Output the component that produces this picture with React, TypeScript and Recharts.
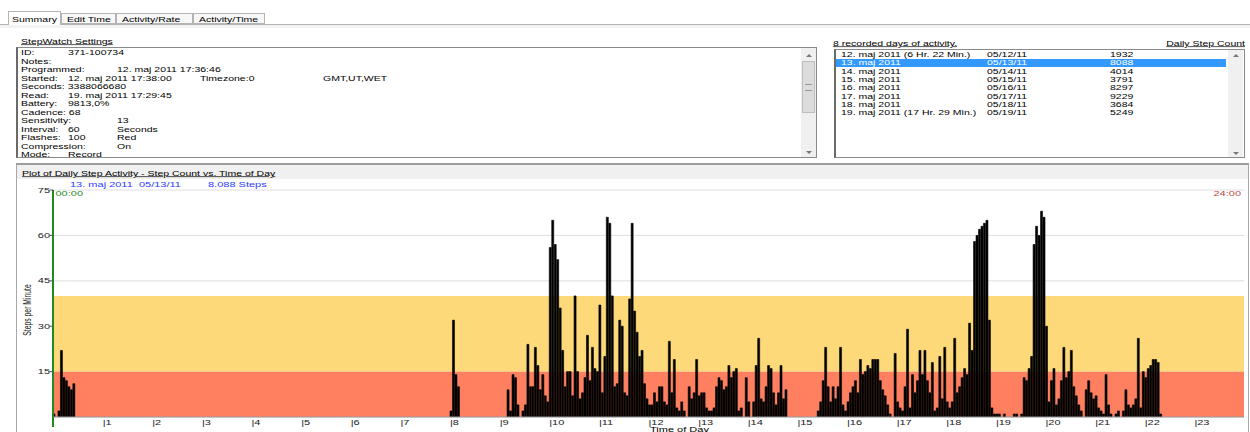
import React from "react";
import { BarChart, Bar, XAxis, YAxis, CartesianGrid, ReferenceArea, ReferenceLine } from "recharts";

const FONT = '"Liberation Sans", Arial, sans-serif';
const SQUASH = 0.68; // the screenshot is squeezed vertically

const BINS_PER_HOUR = 20; // 3-minute bins
const HOURS = 24;

// steps per minute, one value per 3-minute bin
const night0000 = [1, 0, 2, 22, 13, 12, 10, 9, 11];
const morning0800 = [2, 32, 14, 10];
const day0900 = [
  0,
  0, 0, 9, 2, 14, 13, 4, 0, 2, 4, 24, 10, 10, 23, 17, 9, 14, 7, 5, 56,
  65, 57, 52, 36, 22, 10, 15, 15, 7, 40, 15, 6, 8, 13, 27, 12, 23, 16, 15, 37,
  8, 20, 66, 64, 40, 10, 11, 32, 30, 8, 7, 39, 64, 35, 28, 20, 22, 11, 6, 4,
  4, 8, 5, 10, 10, 5, 4, 25, 8, 19, 3, 2, 5, 2, 0, 10, 6, 8, 19, 7,
  8, 8, 3, 2, 2, 3, 10, 13, 12, 9, 10, 17, 13, 15, 16, 2, 3, 0, 13, 5,
  0, 5, 17, 26, 6, 5, 10, 17, 16, 8, 4, 8, 17, 6, 9,
];
const evening1500 = [
  0, 0, 0, 0, 0, 0, 0, 0, 2, 5, 12, 23, 10, 5, 10, 6, 10, 23, 4, 2,
  5, 8, 10, 12, 8, 19, 14, 15, 17, 16, 19, 19, 19, 12, 9, 7, 4, 1, 0, 21,
  5, 3, 2, 10, 29, 3, 14, 8, 12, 22, 14, 22, 12, 8, 18, 2, 3, 20, 6, 23,
  5, 3, 5, 26, 8, 10, 13, 16, 14, 31, 22, 58, 60, 62, 63, 64, 65, 32, 3, 1,
  1, 1, 0, 1, 0, 0, 0, 1, 1, 0, 1, 13, 12, 16, 20, 57, 63, 60, 68, 66,
  30, 5, 12, 16, 4, 6, 12, 23, 13, 15, 22, 10, 7, 4, 2, 0, 9, 12, 8, 6,
  7, 3, 2, 1, 14, 4, 1, 0, 1, 2, 0, 2, 9, 4, 3, 4, 6, 26, 3, 15,
  13, 16, 17, 19, 19, 18, 1,
];
const segmentStartHours = [0, 8, 9, 15];
const segmentValues = [night0000, morning0800, day0900, evening1500];

const stepTicks = [15, 30, 45, 60, 75];
const hourTicks = Array.from({ length: HOURS }, (_, h) => h * BINS_PER_HOUR);
const lowZone = [0, 15];
const midZone = [15, 40];

const tabLabels = ["Summary", "Edit Time", "Activity/Rate", "Activity/Time"];
const dayNames = [
  "12. maj 2011 (6 Hr. 22 Min.)", "13. maj 2011", "14. maj 2011", "15. maj 2011",
  "16. maj 2011", "17. maj 2011", "18. maj 2011", "19. maj 2011 (17 Hr. 29 Min.)",
];
const dayDates = ["05/12/11", "05/13/11", "05/14/11", "05/15/11", "05/16/11", "05/17/11", "05/18/11", "05/19/11"];
const daySteps = ["1932", "8088", "4014", "3791", "8297", "9229", "3684", "5249"];
const selectedDay = 1;

const settingLines: [string, number][][] = [
  [["ID:", 21], ["371-100734", 68]],
  [["Notes:", 21]],
  [["Programmed:", 21], ["12. maj 2011 17:36:46", 117]],
  [["Started:", 21], ["12. maj 2011 17:38:00", 68], ["Timezone:0", 200], ["GMT,UT,WET", 323]],
  [["Seconds: 3388066680", 21]],
  [["Read:", 21], ["19. maj 2011 17:29:45", 68]],
  [["Battery:", 21], ["9813,0%", 68]],
  [["Cadence: 68", 21]],
  [["Sensitivity:", 21], ["13", 117]],
  [["Interval:", 21], ["60", 68], ["Seconds", 117]],
  [["Flashes:", 21], ["100", 68], ["Red", 117]],
  [["Compression:", 21], ["On", 117]],
  [["Mode:", 21], ["Record", 68]],
];

const stepRows = Array.from({ length: HOURS * BINS_PER_HOUR }, (_, bin) => ({ bin, steps: 0 }));
segmentValues.forEach((values, s) => {
  values.forEach((v, i) => {
    stepRows[segmentStartHours[s] * BINS_PER_HOUR + i].steps = v;
  });
});

const GREEN = "#1f8a1f";
const RED_LINE = "#c24a4a";
const BLUE_TEXT = "#2f3cff";
const YELLOW_ZONE = "#fdd97a";
const RED_ZONE = "#fe8060";

function T({ x, y, children, color = "#000", underline = false, right = false, size = 10.5 }: any) {
  const style: React.CSSProperties = {
    position: "absolute",
    top: y - 7,
    height: 14,
    lineHeight: "14px",
    fontSize: size,
    fontFamily: FONT,
    color,
    whiteSpace: "pre",
    transform: `scaleY(${SQUASH})`,
    transformOrigin: right ? "100% 50%" : "0 50%",
    textDecoration: underline ? "underline" : undefined,
  };
  if (right) style.right = 1250 - x;
  else style.left = x;
  return <div style={style}>{children}</div>;
}

function Arrow({ x, y, up }: any) {
  return (
    <div
      style={{
        position: "absolute",
        left: x - 3,
        top: y - 1.5,
        width: 0,
        height: 0,
        borderLeft: "3px solid transparent",
        borderRight: "3px solid transparent",
        [up ? "borderBottom" : "borderTop"]: "3px solid #777",
      }}
    />
  );
}

function HourTick(props: any) {
  const { x, y, payload } = props;
  const bx = x - (payload.offset ?? 0);
  const hour = payload.value / BINS_PER_HOUR;
  if (hour === 0) {
    return <line x1={bx} x2={bx} y1={y} y2={y + 10} stroke={GREEN} strokeWidth={2} />;
  }
  return (
    <g transform={`translate(${bx},${y + 5.7}) scale(1,${SQUASH})`}>
      <text x={0} y={3.9} fontSize={11} fontFamily={FONT} fill="#222">
        {`|${hour}`}
      </text>
    </g>
  );
}

function StepTick(props: any) {
  const { x, y, payload } = props;
  return (
    <g transform={`translate(${x},${y}) scale(1,${SQUASH})`}>
      <text x={0} y={3.9} textAnchor="end" fontSize={11} fontFamily={FONT} fill="#222">
        {payload.value}
      </text>
    </g>
  );
}

export default function App() {
  const tabEdges = [8, 61, 116, 193, 265];
  return (
    <div
      style={{
        position: "fixed",
        left: 0,
        top: 0,
        width: 1250,
        height: 432,
        overflow: "hidden",
        background: "#fff",
        fontFamily: FONT,
      }}
    >
      {/* tab strip */}
      <div style={{ position: "absolute", left: 0, top: 24, width: 1250, height: 1, background: "#b4b4b4" }} />
      <div style={{ position: "absolute", left: 0, top: 25, width: 1250, height: 3, background: "#f3f3f3" }} />
      {tabLabels.map((label, i) => {
        const sel = i === 0;
        return (
          <div
            key={label}
            style={{
              position: "absolute",
              left: tabEdges[i],
              top: sel ? 11 : 13,
              width: tabEdges[i + 1] - tabEdges[i],
              height: sel ? 14 : 11,
              boxSizing: "border-box",
              border: "1px solid #b4b4b4",
              borderBottom: sel ? "none" : "1px solid #b4b4b4",
              background: sel ? "#fff" : "#f7f7f7",
            }}
          />
        );
      })}
      {tabLabels.map((label, i) => (
        <T key={label} x={tabEdges[i] + (i === 0 ? 4 : 6)} y={19}>
          {label}
        </T>
      ))}

      {/* settings box */}
      <T x={21} y={40.5} underline>
        StepWatch Settings
      </T>
      <div
        style={{
          position: "absolute",
          left: 16,
          top: 47,
          width: 801,
          height: 111,
          boxSizing: "border-box",
          border: "1px solid #8a8a8a",
          borderLeft: "2px solid #6a6a6a",
          overflow: "hidden",
          background: "#fff",
        }}
      >
        {settingLines.map((cells, r) =>
          cells.map(([text, x]) => (
            <T key={r + text} x={x - 18} y={52.3 + r * 8.5 - 48}>
              {text}
            </T>
          ))
        )}
      </div>
      <div style={{ position: "absolute", left: 801, top: 48, width: 15, height: 109, background: "#f0f0f0" }} />
      <div
        style={{
          position: "absolute",
          left: 802,
          top: 61,
          width: 13,
          height: 52,
          boxSizing: "border-box",
          background: "#dcdcdc",
          border: "1px solid #bdbdbd",
        }}
      />
      <div style={{ position: "absolute", left: 805, top: 84, width: 7, height: 5, borderTop: "1px solid #999", borderBottom: "1px solid #999" }} />
      <Arrow x={808.5} y={55} up />
      <Arrow x={808.5} y={152} />

      {/* recorded days list */}
      <T x={833} y={42.5} underline>
        {`${dayNames.length} recorded days of activity.`}
      </T>
      <T x={1245} y={42.5} right underline>
        Daily Step Count
      </T>
      <div
        style={{
          position: "absolute",
          left: 834,
          top: 49,
          width: 411,
          height: 109,
          boxSizing: "border-box",
          border: "1px solid #8a8a8a",
          borderLeft: "2px solid #6a6a6a",
          background: "#fff",
        }}
      />
      <div
        style={{
          position: "absolute",
          left: 836,
          top: 58.5,
          width: 390,
          height: 8,
          background: "#3399ff",
        }}
      />
      {dayNames.map((name, i) => {
        const y = 54 + i * 8.3;
        const color = i === selectedDay ? "#fff" : "#000";
        return (
          <React.Fragment key={name}>
            <T x={841} y={y} color={color}>
              {name}
            </T>
            <T x={987} y={y} color={color}>
              {dayDates[i]}
            </T>
            <T x={1110} y={y} color={color}>
              {daySteps[i]}
            </T>
          </React.Fragment>
        );
      })}
      <div style={{ position: "absolute", left: 1228, top: 50, width: 15, height: 107, background: "#f0f0f0" }} />
      <Arrow x={1235.5} y={55} up />
      <Arrow x={1235.5} y={153} />

      {/* chart panel */}
      <div
        style={{
          position: "absolute",
          left: 16,
          top: 163,
          width: 1233,
          height: 280,
          boxSizing: "border-box",
          borderTop: "2px solid #9c9c9c",
          borderLeft: "1px solid #a8a8a8",
          borderRight: "1px solid #a8a8a8",
        }}
      >
        <div style={{ height: 14, background: "#f0f0f0" }} />
      </div>
      <T x={22} y={172.7} underline>
        Plot of Daily Step Activity - Step Count vs. Time of Day
      </T>

      <div style={{ position: "absolute", left: 0, top: 160, width: 1250, height: 272 }}>
        <BarChart
          width={1250}
          height={272}
          data={stepRows}
          margin={{ top: 30, right: 6, left: 0, bottom: 0 }}
          barCategoryGap={0}
          barGap={0}
        >
          <ReferenceArea y1={lowZone[0]} y2={lowZone[1]} fill={RED_ZONE} fillOpacity={1} stroke="none" />
          <ReferenceArea y1={midZone[0]} y2={midZone[1]} fill={YELLOW_ZONE} fillOpacity={1} stroke="none" />
          <CartesianGrid vertical={false} stroke="#dedede" />
          <XAxis
            dataKey="bin"
            ticks={hourTicks}
            interval={0}
            tick={<HourTick />}
            tickLine={false}
            axisLine={{ stroke: "#9a9a9a" }}
            tickSize={0}
            tickMargin={0}
            height={15}
          />
          <YAxis
            domain={[0, 75]}
            ticks={stepTicks}
            interval={0}
            tick={<StepTick />}
            width={53}
            tickSize={3}
            tickMargin={0}
            axisLine={false}
            tickLine={{ stroke: "#555" }}
            allowDataOverflow
          />
          <Bar dataKey="steps" fill="#000" stroke="#000" strokeWidth={0.6} isAnimationActive={false} />
          <ReferenceLine x={0} position="start" stroke={GREEN} strokeWidth={2} />
          <ReferenceLine x={HOURS * BINS_PER_HOUR - 1} position="end" stroke={RED_LINE} strokeWidth={2} />
        </BarChart>
      </div>

      <T x={70} y={184.3} color={BLUE_TEXT} size={11}>
        {`13. maj 2011  ${dayDates[selectedDay]}`}
      </T>
      <T x={208} y={184.3} color={BLUE_TEXT} size={11}>
        {`8.088 Steps`}
      </T>
      <T x={55.5} y={193.3} color={GREEN} size={11}>
        00:00
      </T>
      <T x={1241} y={193.3} color={RED_LINE} size={11} right>
        24:00
      </T>
      <T x={650} y={428.5} size={11}>
        Time of Day
      </T>
      <div
        style={{
          position: "absolute",
          left: 26.7,
          top: 310,
          fontSize: 10,
          fontFamily: FONT,
          whiteSpace: "pre",
          color: "#222",
          transform: `translate(-50%,-50%) rotate(-90deg) scaleX(${SQUASH})`,
        }}
      >
        Steps per Minute
      </div>
    </div>
  );
}
